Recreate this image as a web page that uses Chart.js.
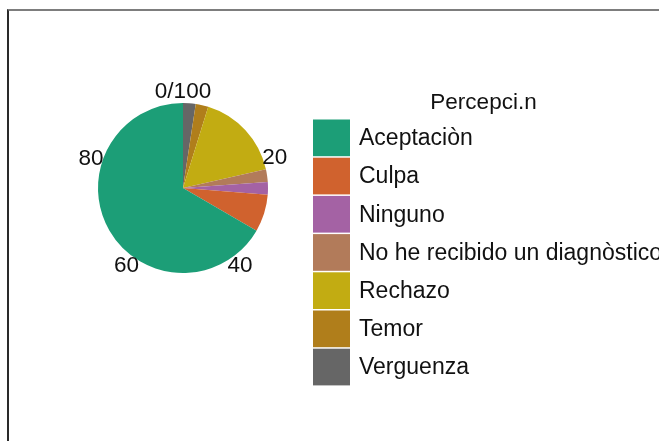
<!DOCTYPE html>
<html lang="es">
<head>
    <meta charset="UTF-8">
    <title>Percepcion</title>
    <script src="https://cdn.jsdelivr.net/npm/chart.js"></script>
    <style>
        html, body { margin: 0; padding: 0; background: #fff; overflow: hidden; }
        #wrap { position: relative; width: 659px; height: 441px; }
        #frame { position: absolute; left: 7px; top: 9px; right: -2px; bottom: -2px;
                 border-top: 2px solid #7d7d7d; border-left: 2px solid #2a2a2a; }
        canvas { position: absolute; left: 0; top: 0; }
    </style>
</head>
<body>
<div id="wrap">
    <div id="frame"></div>
    <canvas id="chart" width="659" height="441"></canvas>
</div>
<script>
    // legend order (top to bottom)
    const categories = ['Aceptaciòn', 'Culpa', 'Ninguno', 'No he recibido un diagnòstico', 'Rechazo', 'Temor', 'Verguenza'];
    const percents = [66.7, 7.1, 2.4, 2.4, 16.7, 2.4, 2.4];
    const colors = ['#1C9E77', '#D0622E', '#A462A4', '#B27B5A', '#C2AC12', '#B07E1B', '#666666'];
    const tickValues = [0, 20, 40, 60, 80];
    const tickLabels = ['0/100', '20', '40', '60', '80'];
    const legendTitle = 'Percepci.n';

    const FONT = '22.5px "Liberation Sans", Arial, sans-serif';
    const KEY_FONT = '23px "Liberation Sans", Arial, sans-serif';

    // ggplot stacks the last level first, going clockwise from the top
    const pieLabels = categories.slice().reverse();
    const pieValues = percents.slice().reverse();
    const pieColors = colors.slice().reverse();

    const extras = {
        id: 'extras',
        afterDraw(chart) {
            const ctx = chart.ctx;
            const arc = chart.getDatasetMeta(0).data[0];
            const cx = arc.x, cy = arc.y, r = arc.outerRadius;
            const total = pieValues.reduce((a, b) => a + b, 0);

            ctx.save();
            ctx.font = FONT;
            ctx.fillStyle = '#111';
            ctx.textAlign = 'center';
            ctx.textBaseline = 'middle';
            tickValues.forEach((v, i) => {
                const a = -Math.PI / 2 + v / total * Math.PI * 2;
                const d = r + 11.5;
                ctx.fillText(tickLabels[i], cx + Math.cos(a) * d, cy + Math.sin(a) * d);
            });

            // legend
            const keyX = 313, keyW = 37, keyTop = 119.5, pitch = 38.2, keyH = 36.7;
            ctx.textBaseline = 'alphabetic';
            ctx.fillText(legendTitle, 483.5, 108.5);
            ctx.font = KEY_FONT;
            ctx.textAlign = 'left';
            ctx.textBaseline = 'middle';
            categories.forEach((c, i) => {
                const y = keyTop + i * pitch;
                ctx.fillStyle = colors[i];
                ctx.fillRect(keyX, y, keyW, keyH);
                ctx.fillStyle = '#111';
                ctx.fillText(c, 359, y + keyH / 2 + 1);
            });
            ctx.restore();
        }
    };

    new Chart(document.getElementById('chart'), {
        type: 'pie',
        data: {
            labels: pieLabels,
            datasets: [{
                data: pieValues,
                backgroundColor: pieColors,
                borderWidth: 0
            }]
        },
        options: {
            responsive: false,
            animation: false,
            layout: { padding: { left: 98, top: 103, right: 391, bottom: 168 } },
            plugins: {
                legend: { display: false },
                tooltip: { enabled: false }
            }
        },
        plugins: [extras]
    });
</script>
</body>
</html>
